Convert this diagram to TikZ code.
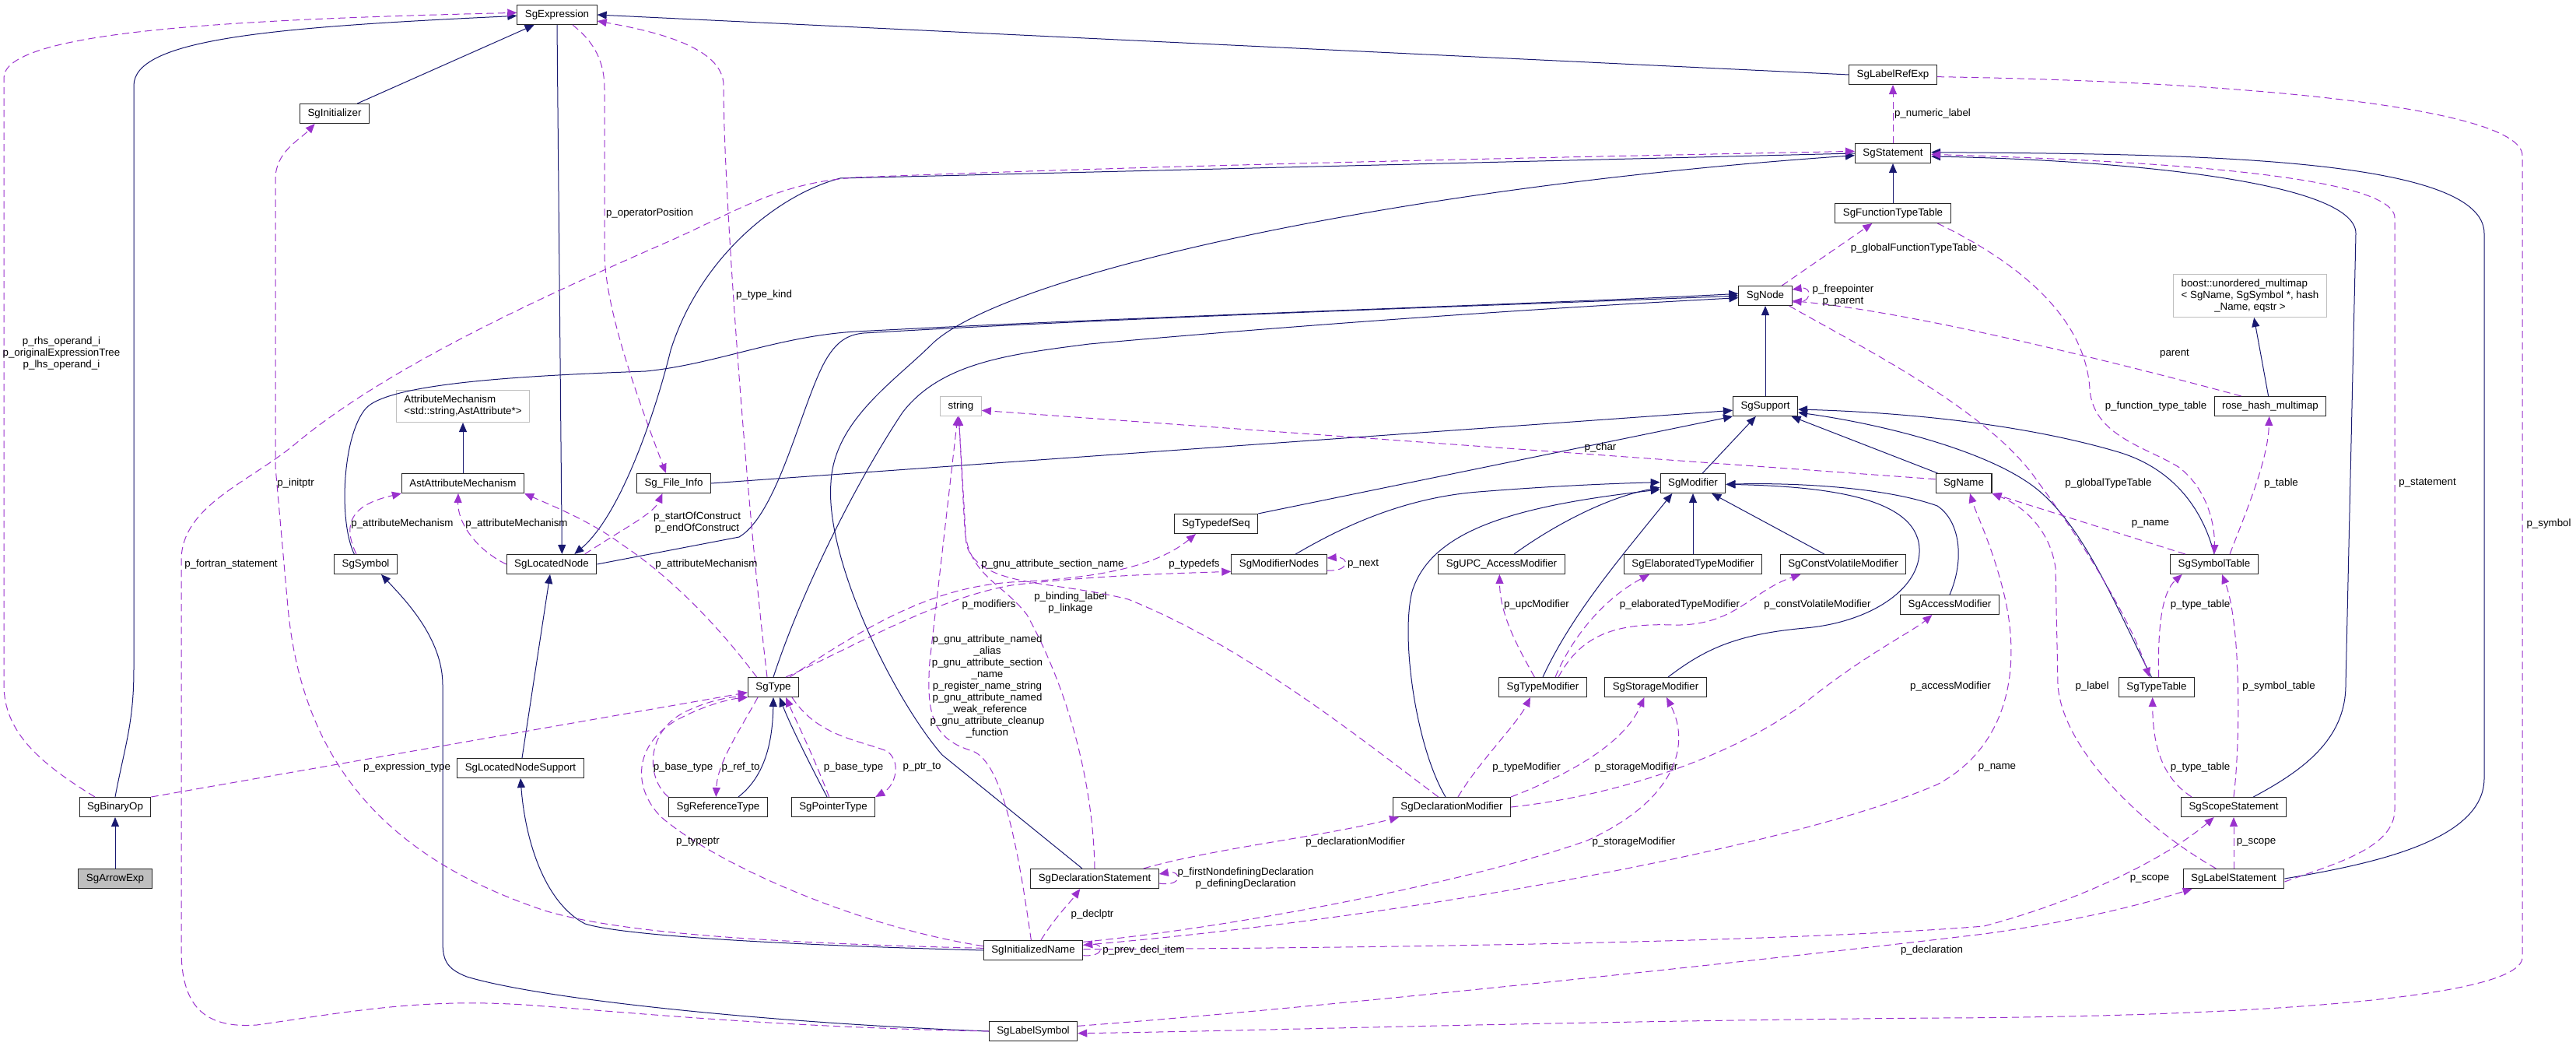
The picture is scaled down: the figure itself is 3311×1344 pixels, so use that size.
\documentclass[tikz,border=0pt]{standalone}
\usepackage{fontspec}
\setmainfont{Liberation Sans}
\usetikzlibrary{arrows.meta}
\definecolor{isacol}{RGB}{25,25,112}
\definecolor{hascol}{RGB}{154,50,205}
\begin{document}
\begin{tikzpicture}[x=0.75pt, y=-0.75pt,
  every node/.style={font=\fontsize{10}{11.25}\selectfont},
  cls/.style={draw=black!85, fill=white, line width=0.8pt, inner xsep=7.5pt, inner ysep=2pt, minimum height=18.75pt},
  ext/.style={cls, draw=black!25},
  cur/.style={cls, fill=black!25},
  lbl/.style={inner sep=0pt, align=center},
  isa/.style={draw=isacol, line width=0.75pt, -{Triangle[length=9pt,width=7.5pt]}},
  has/.style={draw=hascol, line width=0.75pt, dash pattern=on 7pt off 4pt, -{Triangle[length=9pt,width=7.5pt]}}]
  \useasboundingbox (0,0) rectangle (3311,1344);

  \node[cls] (expr) at (716, 19) {SgExpression};
  \node[cls] (init) at (430, 146) {SgInitializer};
  \node[cls] (lrefexp) at (2433, 96) {SgLabelRefExp};
  \node[cls] (stmt) at (2433, 197) {SgStatement};
  \node[cls] (ftable) at (2433, 274) {SgFunctionTypeTable};
  \node[cls] (sgnode) at (2269, 380) {SgNode};
  \node[ext, minimum height=41.25pt] (boostmap) at (2892, 380) {\begin{tabular}{@{}l@{}}boost::unordered\_multimap\\< SgName, SgSymbol *, hash\\\multicolumn{1}{@{}c@{}}{\_Name, eqstr >}\end{tabular}};
  \node[cls] (rosehash) at (2918, 522) {rose\_hash\_multimap};
  \node[ext, align=left, minimum height=30.75pt] (attrmech) at (595, 522) {AttributeMechanism\\<std::string,AstAttribute*>};
  \node[ext] (str) at (1235, 522) {string};
  \node[cls] (support) at (2269, 522) {SgSupport};
  \node[cls] (astattr) at (595, 621) {AstAttributeMechanism};
  \node[cls] (fileinfo) at (866, 621) {Sg\_File\_Info};
  \node[cls] (modifier) at (2176, 621) {SgModifier};
  \node[cls] (sgname) at (2524, 621) {SgName};
  \node[cls] (typedefseq) at (1563, 673) {SgTypedefSeq};
  \node[cls] (symbol) at (470, 725) {SgSymbol};
  \node[cls] (locnode) at (709, 725) {SgLocatedNode};
  \node[cls] (modnodes) at (1644, 725) {SgModifierNodes};
  \node[cls] (upcmod) at (1930, 725) {SgUPC\_AccessModifier};
  \node[cls] (elabmod) at (2176, 725) {SgElaboratedTypeModifier};
  \node[cls] (cvmod) at (2369, 725) {SgConstVolatileModifier};
  \node[cls] (symtab) at (2846, 725) {SgSymbolTable};
  \node[cls] (accmod) at (2506, 777) {SgAccessModifier};
  \node[cls] (type) at (994, 883) {SgType};
  \node[cls] (tmod) at (1983, 883) {SgTypeModifier};
  \node[cls] (smod) at (2128, 883) {SgStorageModifier};
  \node[cls] (ttable) at (2772, 883) {SgTypeTable};
  \node[cls] (lnsupport) at (669, 987) {SgLocatedNodeSupport};
  \node[cls] (binop) at (148, 1037) {SgBinaryOp};
  \node[cls] (reftype) at (923, 1037) {SgReferenceType};
  \node[cls] (ptrtype) at (1071, 1037) {SgPointerType};
  \node[cls] (dmod) at (1866, 1037) {SgDeclarationModifier};
  \node[cls] (scope) at (2871, 1037) {SgScopeStatement};
  \node[cur] (arrowexp) at (148, 1129) {SgArrowExp};
  \node[cls] (dstmt) at (1407, 1129) {SgDeclarationStatement};
  \node[cls] (lstmt) at (2871, 1129) {SgLabelStatement};
  \node[cls] (iname) at (1328, 1221) {SgInitializedName};
  \node[cls] (lsym) at (1328, 1325) {SgLabelSymbol};

  \draw[isa] (arrowexp) -- (binop);
  \draw[isa] (binop.north) .. controls (160,960) and (172,930) .. (172,860) -- (172,110) .. controls (172,50) and (350,35) .. ([yshift=-1pt]expr.west);
  \draw[isa] (init) -- (expr);
  \draw[isa] (lrefexp.west) -- (expr.east);
  \draw[isa] (expr.south) -- ([xshift=10pt]locnode.north);
  \draw[isa] (stmt.west) -- (1080,229) .. controls (1000,250) and (900,330) .. (862,450) .. controls (845,520) and (800,660) .. ([xshift=22pt]locnode.north);
  \draw[isa] (lnsupport) -- (locnode);
  \draw[isa] (iname.west) .. controls (1000,1214) and (800,1202) .. (752,1187) .. controls (700,1160) and (675,1080) .. (lnsupport.south);
  \draw[isa] (locnode.east) -- (950,690) .. controls (1000,660) and (1030,520) .. (1060,465) .. controls (1075,438) and (1090,430) .. (1110,428) .. controls (1500,405) and (2000,390) .. (sgnode.west);
  \draw[isa] ([xshift=-11pt]symbol.north) .. controls (435,670) and (440,560) .. (470,525) .. controls (500,490) and (700,482) .. (830,477) .. controls (920,468) and (1000,432) .. (1100,426) .. controls (1500,405) and (2000,390) .. ([yshift=2pt]sgnode.west);
  \draw[isa] (type.north) .. controls (1030,760) and (1100,620) .. (1160,530) .. controls (1210,465) and (1300,455) .. (1400,442) .. controls (1700,415) and (2000,395) .. ([yshift=-2pt]sgnode.west);
  \draw[isa] (support) -- (sgnode);
  \draw[isa] (lsym.west) .. controls (1000,1315) and (700,1285) .. (600,1255) .. controls (575,1245) and (569,1235) .. (569,1210) -- (569,880) .. controls (569,820) and (520,770) .. ([xshift=15pt]symbol.south);
  \draw[isa] (ftable) -- (stmt);
  \draw[isa] ([xshift=19pt]scope.north) .. controls (2960,990) and (3015,950) .. (3015,880) -- (3028,300) .. controls (3028,230) and (2700,205) .. ([yshift=-3pt]stmt.east);
  \draw[isa] (lstmt.east) .. controls (3050,1110) and (3193,1080) .. (3193,1000) -- (3193,300) .. controls (3193,200) and (2800,198) .. ([yshift=1pt]stmt.east);
  \draw[isa] ([xshift=-12pt]dstmt.north) -- (1211,970) .. controls (1150,900) and (1060,720) .. (1068,620) .. controls (1072,540) and (1150,490) .. (1200,440) .. controls (1300,350) and (1800,240) .. ([yshift=-2pt]stmt.west);
  \draw[isa] (fileinfo.east) -- ([yshift=-4pt]support.west);
  \draw[isa] (typedefseq.north east) -- (support.south west);
  \draw[isa] (modifier) -- (support);
  \draw[isa] (sgname) -- (support);
  \draw[isa] (symtab.north) .. controls (2830,650) and (2790,600) .. (2720,580) .. controls (2600,545) and (2450,530) .. ([yshift=-3pt]support.east);
  \draw[isa] ([xshift=-5pt]ttable.north) .. controls (2720,780) and (2680,680) .. (2620,630) .. controls (2560,580) and (2420,545) .. ([yshift=-6pt]support.east);
  \draw[isa] ([xshift=16pt]modnodes.north) .. controls (1720,680) and (1800,640) .. (1900,632) .. controls (2000,624) and (2080,621) .. ([yshift=1pt]modifier.west);
  \draw[isa] ([xshift=12pt]upcmod.north) .. controls (1990,680) and (2060,640) .. ([yshift=-4pt]modifier.west);
  \draw[isa] (elabmod) -- (modifier);
  \draw[isa] (cvmod) -- (modifier);
  \draw[isa] (accmod.north) .. controls (2525,720) and (2520,670) .. (2490,650) .. controls (2420,625) and (2300,620) .. ([yshift=-1pt]modifier.east);
  \draw[isa] (tmod.north) .. controls (2020,790) and (2080,720) .. ([xshift=-20pt]modifier.south);
  \draw[isa] ([xshift=12pt]smod.north) .. controls (2190,835) and (2230,815) .. (2320,807) .. controls (2400,800) and (2465,760) .. (2467,710) .. controls (2470,640) and (2350,625) .. ([yshift=-1pt]modifier.east);
  \draw[isa] ([xshift=-6pt]dmod.north) .. controls (1820,960) and (1800,820) .. (1815,760) .. controls (1840,680) and (1950,650) .. ([yshift=-6pt]modifier.west);
  \draw[isa] ([xshift=19.5pt]reftype.north) .. controls (980,1000) and (993,960) .. (type.south);
  \draw[isa] ([xshift=-6pt]ptrtype.north) .. controls (1040,980) and (1015,930) .. ([xshift=6pt]type.south);
  \draw[isa] (astattr) -- (attrmech);
  \draw[isa] (rosehash) -- (boostmap);

  \draw[has] ([xshift=-19.5pt]binop.north) .. controls (50,980) and (5,940) .. (5,880) -- (5,100) .. controls (5,40) and (300,25) .. ([yshift=2pt]expr.west);
  \node[lbl] (lrhs) at (79, 454) {p\_rhs\_operand\_i\\p\_originalExpressionTree\\p\_lhs\_operand\_i};
  \draw[has] ([xshift=-6pt]type.north) .. controls (960,650) and (930,250) .. (930,110) .. controls (930,60) and (840,40) .. ([yshift=-6pt]expr.east);
  \node[lbl] (ltypekind) at (982, 379) {p\_type\_kind};
  \draw[has] ([yshift=2pt]iname.west) .. controls (1000,1212) and (800,1200) .. (700,1170) .. controls (520,1110) and (390,1000) .. (370,780) -- (354,600) -- (354,230) .. controls (354,195) and (385,180) .. ([xshift=-19pt]init.south);
  \node[lbl] (linitptr) at (380, 621) {p\_initptr};
  \draw[has] (lsym.west) .. controls (1000,1320) and (800,1300) .. (700,1293) .. controls (550,1280) and (450,1300) .. (330,1317) .. controls (260,1322) and (233,1290) .. (233,1220) -- (233,720) .. controls (233,650) and (320,620) .. (380,570) .. controls (500,470) and (700,380) .. (860,310) .. controls (950,270) and (1000,235) .. (1100,228) .. controls (1500,212) and (2000,202) .. ([yshift=2pt]stmt.west);
  \node[lbl] (lfortran) at (297, 725) {p\_fortran\_statement};
  \draw[has] ([xshift=32pt]locnode.north) .. controls (800,680) and (840,660) .. ([xshift=-11pt]fileinfo.south);
  \node[lbl] (lconstruct) at (896, 672) {p\_startOfConstruct\\p\_endOfConstruct};
  \draw[has] ([xshift=15pt]expr.south) .. controls (765,55) and (777,80) .. (777,115) -- (777,330) .. controls (780,400) and (815,500) .. ([xshift=-7.5pt]fileinfo.north);
  \node[lbl] (loppos) at (835, 274) {p\_operatorPosition};
  \draw[has] ([xshift=-9pt]symbol.north) .. controls (438,670) and (455,648) .. (astattr.south west);
  \node[lbl] (lattr1) at (517, 673) {p\_attributeMechanism};
  \draw[has] (locnode.west) .. controls (610,705) and (588,670) .. ([xshift=-4.5pt]astattr.south);
  \node[lbl] (lattr2) at (664, 673) {p\_attributeMechanism};
  \draw[has] ([xshift=-16pt]type.north) .. controls (920,800) and (860,740) .. (800,700) .. controls (760,670) and (710,650) .. (astattr.south east);
  \node[lbl] (lattr3) at (908, 725) {p\_attributeMechanism};
  \draw[has] (binop.north east) -- ([yshift=-5pt]type.west);
  \node[lbl] (lexprtype) at (523, 986) {p\_expression\_type};
  \draw[has] ([yshift=4pt]iname.west) .. controls (1100,1190) and (920,1110) .. (850,1050) .. controls (810,1010) and (815,950) .. (880,920) .. controls (910,905) and (940,898) .. (type.south west);
  \node[lbl] (ltypeptr) at (897, 1082) {p\_typeptr};
  \draw[has] ([xshift=-15pt]type.south) .. controls (950,940) and (922,980) .. ([xshift=-2pt]reftype.north);
  \node[lbl] (lrefto) at (952, 986) {p\_ref\_to};
  \draw[has] (reftype.north west) .. controls (830,1000) and (830,940) .. (880,915) .. controls (910,900) and (940,895) .. (type.south west);
  \node[lbl] (lbase1) at (878, 986) {p\_base\_type};
  \draw[has] ([xshift=-4pt]ptrtype.north) .. controls (1045,970) and (1025,930) .. ([xshift=12pt]type.south);
  \node[lbl] (lbase2) at (1097, 986) {p\_base\_type};
  \draw[has] ([xshift=18pt]type.south) .. controls (1050,945) and (1100,950) .. (1140,965) .. controls (1160,980) and (1150,1010) .. (ptrtype.north east);
  \node[lbl] (lptrto) at (1185, 986) {p\_ptr\_to};
  \draw[has] ([xshift=12pt]type.north) .. controls (1100,830) and (1200,770) .. (1300,752) .. controls (1400,740) and (1500,737) .. ([yshift=-7pt]modnodes.west);
  \node[lbl] (lmodifiers) at (1271, 777) {p\_modifiers};
  \draw[has] ([xshift=16pt]type.north) .. controls (1120,800) and (1200,755) .. (1300,748) .. controls (1420,743) and (1490,725) .. ([xshift=-19.5pt]typedefseq.south);
  \node[lbl] (ltypedefs) at (1535, 725) {p\_typedefs};
  \draw[has] (dstmt.north) .. controls (1405,1000) and (1370,880) .. (1320,790) .. controls (1290,750) and (1245,740) .. (1240,680) -- ([xshift=-2pt]str.south);
  \node[lbl] (lbinding) at (1376, 775) {p\_binding\_label\\p\_linkage};
  \draw[has] ([xshift=-13pt]dmod.north) .. controls (1750,950) and (1600,830) .. (1450,770) .. controls (1350,745) and (1260,755) .. (1242,700) -- ([xshift=-2pt]str.south);
  \node[lbl] (lsection) at (1353, 725) {p\_gnu\_attribute\_section\_name};
  \draw[has] ([xshift=-2pt]iname.north) .. controls (1310,1100) and (1290,980) .. (1250,965) .. controls (1200,950) and (1190,920) .. (1195,850) -- ([xshift=-3pt]str.south);
  \node[lbl] (lgnu) at (1269, 882) {p\_gnu\_attribute\_named\\\_alias\\p\_gnu\_attribute\_section\\\_name\\p\_register\_name\_string\\p\_gnu\_attribute\_named\\\_weak\_reference\\p\_gnu\_attribute\_cleanup\\\_function};
  \draw[has] ([yshift=4pt]sgname.west) -- ([yshift=-4pt]str.east);
  \node[lbl] (lchar) at (2057, 575) {p\_char};
  \draw[has] ([xshift=7.5pt]iname.north) .. controls (1355,1180) and (1375,1160) .. ([xshift=-14pt]dstmt.south);
  \node[lbl] (ldeclptr) at (1404, 1175) {p\_declptr};
  \draw[has] ([yshift=-4.5pt]dstmt.east) .. controls (1520,1140) and (1520,1118) .. ([yshift=4.5pt]dstmt.east);
  \node[lbl] (ldefining) at (1601, 1129) {p\_firstNondefiningDeclaration\\p\_definingDeclaration};
  \draw[has] ([xshift=47pt]dstmt.north) .. controls (1560,1090) and (1700,1075) .. ([xshift=-51pt]dmod.south);
  \node[lbl] (ldeclmod) at (1742, 1082) {p\_declarationModifier};
  \draw[has] ([xshift=6pt]dmod.north) .. controls (1900,980) and (1950,930) .. ([xshift=-12pt]tmod.south);
  \node[lbl] (ltypemod) at (1962, 986) {p\_typeModifier};
  \draw[has] (dmod.north east) .. controls (2030,990) and (2090,950) .. ([xshift=-11pt]smod.south);
  \node[lbl] (lstor1) at (2103, 986) {p\_storageModifier};
  \draw[has] ([yshift=8pt]iname.east) .. controls (1600,1190) and (1900,1130) .. (2040,1080) .. controls (2150,1030) and (2175,960) .. ([xshift=10.5pt]smod.south);
  \node[lbl] (lstor2) at (2100, 1082) {p\_storageModifier};
  \draw[has] (dmod.east) .. controls (2100,1020) and (2250,960) .. (2330,895) .. controls (2400,840) and (2460,810) .. ([xshift=-17pt]accmod.south);
  \node[lbl] (laccess) at (2507, 882) {p\_accessModifier};
  \draw[has] ([yshift=5pt]iname.east) .. controls (1800,1180) and (2300,1090) .. (2490,1008) .. controls (2580,960) and (2600,860) .. (2575,760) .. controls (2560,700) and (2540,660) .. ([xshift=6pt]sgname.south);
  \node[lbl] (lname1) at (2567, 986) {p\_name};
  \draw[has] ([yshift=1pt]iname.east) .. controls (1800,1218) and (2300,1210) .. (2550,1190) .. controls (2700,1150) and (2800,1090) .. ([xshift=-19pt]scope.south);
  \node[lbl] (lscope1) at (2763, 1129) {p\_scope};
  \draw[has] ([yshift=5pt]lsym.east) .. controls (1700,1295) and (2300,1230) .. (2550,1200) .. controls (2680,1182) and (2760,1160) .. ([xshift=-40pt]lstmt.south);
  \node[lbl] (ldecl) at (2483, 1221) {p\_declaration};
  \draw[has] ([yshift=-2pt]lrefexp.east) .. controls (2900,105) and (3242,140) .. (3242,200) -- (3242,1230) .. controls (3242,1290) and (2800,1307) .. (2490,1308) .. controls (2000,1312) and (1600,1325) .. ([yshift=-2pt]lsym.east);
  \node[lbl] (lsymbol) at (3276, 673) {p\_symbol};
  \draw[has] ([yshift=-3pt]lstmt.east) .. controls (3000,1110) and (3078,1090) .. (3078,1040) -- (3078,280) .. controls (3078,220) and (2700,205) .. ([yshift=-1pt]stmt.east);
  \node[lbl] (lstatement) at (3120, 621) {p\_statement};
  \draw[has] (stmt) -- (lrefexp);
  \node[lbl] (lnumeric) at (2484, 146) {p\_numeric\_label};
  \draw[has] (lstmt) -- (scope);
  \node[lbl] (lscope2) at (2900, 1082) {p\_scope};
  \draw[has] ([xshift=-17pt]lstmt.north) .. controls (2750,1060) and (2650,960) .. (2645,880) -- (2642,730) .. controls (2635,680) and (2600,650) .. (sgname.south east);
  \node[lbl] (llabel) at (2689, 882) {p\_label};
  \draw[has] ([xshift=-28pt]symtab.north) -- (sgname.south east);
  \node[lbl] (lname2) at (2764, 673) {p\_name};
  \draw[has] ([xshift=2pt]ttable.north) .. controls (2773,800) and (2780,760) .. ([xshift=-31pt]symtab.south);
  \node[lbl] (ltt1) at (2828, 777) {p\_type\_table};
  \draw[has] ([xshift=-40.5pt]scope.north) .. controls (2780,1000) and (2767,960) .. ([xshift=-4pt]ttable.south);
  \node[lbl] (ltt2) at (2828, 986) {p\_type\_table};
  \draw[has] (scope.north) .. controls (2880,950) and (2880,800) .. ([xshift=7.5pt]symtab.south);
  \node[lbl] (lsymtab) at (2929, 882) {p\_symbol\_table};
  \draw[has] ([xshift=43pt]ftable.south) .. controls (2580,330) and (2680,400) .. (2686,500) .. controls (2690,560) and (2760,575) .. (2800,600) .. controls (2840,630) and (2847,680) .. (symtab.north);
  \node[lbl] (lfuncttable) at (2771, 522) {p\_function\_type\_table};
  \draw[has] ([xshift=15pt]symtab.north) .. controls (2890,650) and (2915,590) .. ([xshift=-1pt]rosehash.south);
  \node[lbl] (ltable) at (2932, 621) {p\_table};
  \draw[has] ([xshift=-28pt]rosehash.north) .. controls (2700,460) and (2450,400) .. ([yshift=-5pt]sgnode.east);
  \node[lbl] (lparent) at (2795, 455) {parent};
  \draw[has] ([xshift=16pt]sgnode.north) -- ([xshift=-20pt]ftable.south);
  \node[lbl] (lglobfunc) at (2460, 319) {p\_globalFunctionTypeTable};
  \draw[has] ([xshift=23pt]sgnode.south) .. controls (2400,450) and (2560,530) .. (2620,620) .. controls (2680,700) and (2740,800) .. ([xshift=-7pt]ttable.north);
  \node[lbl] (lglobtype) at (2710, 621) {p\_globalTypeTable};
  \draw[has] ([yshift=-6pt]sgnode.east) .. controls (2330,392) and (2330,368) .. ([yshift=6pt]sgnode.east);
  \node[lbl] (lfree) at (2369, 380) {p\_freepointer\\p\_parent};
  \draw[has] ([yshift=-6pt]modnodes.east) .. controls (1735,735) and (1735,715) .. ([yshift=6pt]modnodes.east);
  \node[lbl] (lnext) at (1752, 725) {p\_next};
  \draw[has] ([yshift=-5pt]iname.east) .. controls (1420,1230) and (1420,1212) .. ([yshift=5pt]iname.east);
  \node[lbl] (lprev) at (1470, 1221) {p\_prev\_decl\_item};
  \draw[has] ([xshift=12pt]tmod.north) .. controls (2020,820) and (2060,770) .. ([xshift=-42pt]elabmod.south);
  \node[lbl] (lelab) at (2159, 777) {p\_elaboratedTypeModifier};
  \draw[has] ([xshift=15pt]tmod.north) .. controls (2030,820) and (2070,800) .. (2150,803) .. controls (2230,805) and (2250,760) .. ([xshift=-41pt]cvmod.south);
  \node[lbl] (lcv) at (2336, 777) {p\_constVolatileModifier};
  \draw[has] ([xshift=-8pt]tmod.north) .. controls (1950,830) and (1928,790) .. ([xshift=-2pt]upcmod.south);
  \node[lbl] (lupc) at (1975, 777) {p\_upcModifier};
\end{tikzpicture}
\end{document}
